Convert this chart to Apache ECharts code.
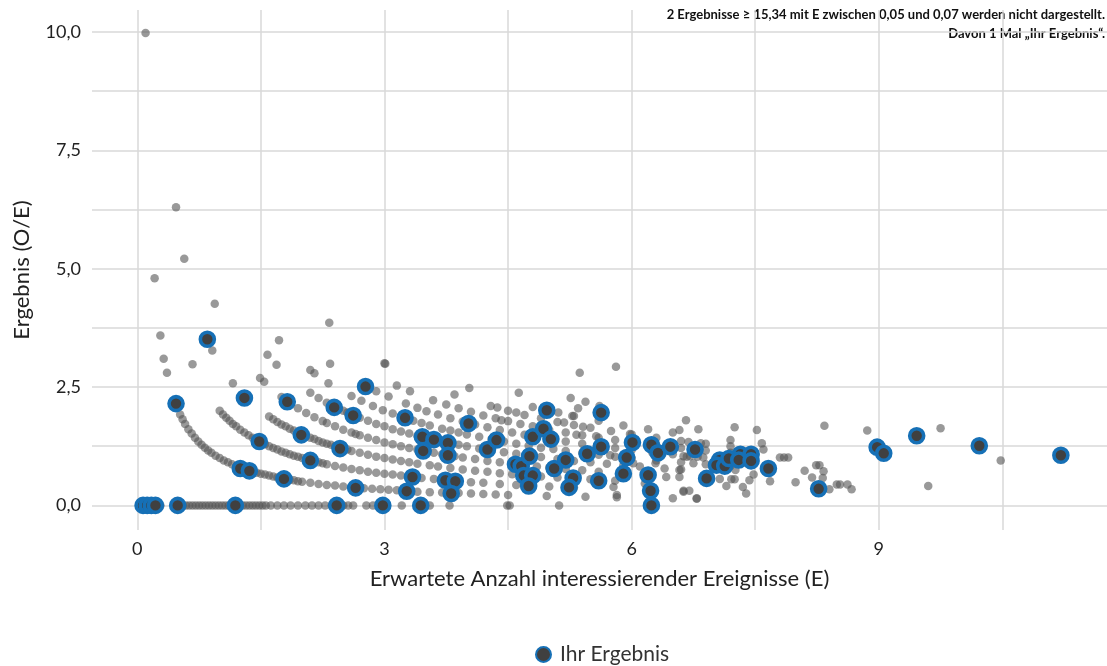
<!DOCTYPE html>
<html>
<head>
<meta charset="utf-8">
<script src="https://cdn.jsdelivr.net/npm/echarts@6/dist/echarts.min.js"></script>
<style>
html,body{margin:0;padding:0;background:#fff;}
#chart{width:1107px;height:666px;}
</style>
</head>
<body>
<div id="chart"></div>
<script>
// ---- data (E, O/E) ----
const xTickLabels = [0, 3, 6, 9];
const yTickLabels = [0, 2.5, 5, 7.5, 10];
const xGridLines = [0, 1.5, 3, 4.5, 6, 7.5, 9, 10.5];
const yGridLines = [0, 1.25, 2.5, 3.75, 5, 6.25, 7.5, 8.75, 10];
const noteLines = [
  '2 Ergebnisse \u2265 15,34 mit E zwischen 0,05 und 0,07 werden nicht dargestellt.',
  'Davon 1 Mal \u201EIhr Ergebnis\u201C.'
];

const ihrErgebnis = [
  [0.07,0],[0.12,0],[0.17,0],[0.22,0],[0.49,0],[1.19,0],[2.42,0],[2.98,0],[3.44,0],[6.24,0],
  [0.47,2.15],[0.85,3.51],[1.30,2.27],[1.82,2.19],[1.48,1.35],[1.25,0.78],[1.36,0.73],[1.99,1.49],
  [1.78,0.56],[2.10,0.95],[2.39,2.07],[2.77,2.51],[2.62,1.90],[2.46,1.20],[2.65,0.37],[3.25,1.85],
  [3.46,1.45],[3.60,1.39],[3.77,1.32],[3.47,1.15],[3.77,1.06],[3.34,0.60],[3.27,0.30],[3.74,0.53],
  [3.86,0.51],[3.81,0.25],[4.02,1.73],[4.25,1.18],[4.36,1.38],[4.97,2.01],[4.80,1.45],[4.93,1.62],
  [5.02,1.40],[4.59,0.87],[4.66,0.83],[4.76,1.04],[4.69,0.63],[4.80,0.63],[4.75,0.41],[5.06,0.78],
  [5.20,0.96],[5.29,0.58],[5.24,0.38],[5.46,1.09],[5.63,1.96],[5.63,1.24],[5.60,0.52],[5.94,1.01],
  [5.90,0.67],[6.01,1.33],[6.24,1.28],[6.32,1.11],[6.20,0.64],[6.23,0.31],[6.47,1.24],[6.77,1.18],
  [6.91,0.57],[7.07,0.96],[7.03,0.85],[7.13,0.83],[7.18,0.99],[7.32,1.08],[7.30,0.96],[7.45,1.08],
  [7.45,0.94],[7.66,0.78],[8.27,0.35],[8.98,1.23],[9.06,1.10],[9.46,1.47],[10.22,1.26],[11.21,1.06]
];

// all other results
const rowZero = [
  [0.05,0],[0.08,0],[0.12,0],[0.18,0],[0.24,0],[0.28,0],[0.55,0],[0.59,0],[0.63,0],[0.67,0],[0.71,0],
  [0.75,0],[0.79,0],[0.83,0],[0.87,0],[0.91,0],[0.95,0],[0.99,0],[1.03,0],[1.07,0],[1.11,0],[1.15,0],
  [1.24,0],[1.28,0],[1.32,0],[1.36,0],[1.40,0],[1.44,0],[1.48,0],[1.52,0],[1.56,0],[1.62,0],[1.70,0],
  [1.78,0],[1.86,0],[1.95,0],[2.04,0],[2.12,0],[2.20,0],[2.28,0],[2.36,0],[2.50,0],[2.56,0],[2.62,0],
  [2.78,0],[2.86,0],[3.21,0],[3.55,0],[3.79,0],[4.49,0],[4.52,0],[5.12,0]
];
const rowOne = [
  [0.52,1.92],[0.55,1.82],[0.58,1.72],[0.62,1.61],[0.66,1.52],[0.70,1.43],[0.74,1.35],[0.78,1.28],
  [0.82,1.22],[0.86,1.16],[0.90,1.11],[0.95,1.05],[1.00,1.00],[1.05,0.95],[1.10,0.91],[1.15,0.87],
  [1.20,0.83],[1.30,0.77],[1.40,0.71],[1.45,0.69],[1.50,0.67],[1.55,0.65],[1.60,0.63],[1.65,0.61],
  [1.70,0.59],[1.85,0.54],[1.90,0.53],[1.95,0.51],[2.00,0.50],[2.10,0.48],[2.20,0.45],[2.30,0.43],
  [2.40,0.42],[2.50,0.40],[2.60,0.38],[2.75,0.36],[2.85,0.35],[2.95,0.34],[3.05,0.33],[3.15,0.32],
  [3.40,0.29],[3.55,0.28],[3.70,0.27],[3.90,0.26],[4.05,0.25],[4.20,0.24],[4.35,0.23],[4.50,0.22],
  [4.97,0.20],[5.44,0.18],[5.82,0.17]
];
const rowTwo = [
  [1.00,2.00],[1.04,1.92],[1.08,1.85],[1.12,1.79],[1.16,1.72],[1.20,1.67],[1.25,1.60],[1.30,1.54],
  [1.35,1.48],[1.40,1.43],[1.45,1.38],[1.55,1.29],[1.60,1.25],[1.65,1.21],[1.70,1.18],[1.75,1.14],
  [1.80,1.11],[1.85,1.08],[1.90,1.05],[1.95,1.03],[2.00,1.00],[2.05,0.98],[2.15,0.93],[2.20,0.91],
  [2.25,0.89],[2.30,0.87],[2.40,0.83],[2.50,0.80],[2.60,0.77],[2.70,0.74],[2.80,0.71],[2.90,0.69],
  [3.00,0.67],[3.10,0.65],[3.20,0.63],[3.30,0.61],[3.45,0.58],[3.60,0.56],[3.75,0.53],[3.90,0.51],
  [4.05,0.49],[4.20,0.48],[4.40,0.45],[4.60,0.43],[4.80,0.42],[5.00,0.40],[5.30,0.38],[5.78,0.39]
];
const rowThree = [
  [1.16,2.58],[1.60,1.88],[1.65,1.82],[1.70,1.76],[1.75,1.71],[1.80,1.67],[1.85,1.62],[1.90,1.58],
  [1.95,1.54],[2.05,1.46],[2.10,1.43],[2.15,1.40],[2.20,1.36],[2.25,1.33],[2.30,1.30],[2.35,1.28],
  [2.40,1.25],[2.50,1.20],[2.55,1.18],[2.60,1.15],[2.70,1.11],[2.80,1.07],[2.90,1.03],[3.00,1.00],
  [3.10,0.97],[3.20,0.94],[3.30,0.91],[3.40,0.88],[3.55,0.85],[3.65,0.82],[3.80,0.79],[3.95,0.76],
  [4.10,0.73],[4.25,0.71],[4.40,0.68],[4.55,0.66],[4.70,0.64],[4.90,0.61],[5.10,0.59],[5.30,0.57],
  [5.50,0.55],[5.80,0.52]
];
const rowFour = [
  [1.49,2.69],[1.54,2.61],[1.75,2.29],[1.85,2.16],[1.95,2.05],[2.05,1.95],[2.15,1.86],[2.25,1.78],
  [2.30,1.74],[2.40,1.67],[2.50,1.60],[2.60,1.54],[2.65,1.51],[2.70,1.48],[2.80,1.43],[2.90,1.38],
  [3.00,1.33],[3.10,1.29],[3.20,1.25],[3.30,1.21],[3.40,1.18],[3.50,1.14],[3.60,1.11],[3.70,1.08],
  [3.85,1.04],[3.95,1.01],[4.10,0.98],[4.25,0.94],[4.40,0.91],[4.55,0.88],[4.70,0.85],[4.85,0.82],
  [5.00,0.80],[5.20,0.77],[5.40,0.74],[5.60,0.71],[5.90,0.68],[6.20,0.65]
];
const rowFive = [
  [1.58,3.18],[1.69,2.97],[2.10,2.38],[2.20,2.27],[2.30,2.17],[2.45,2.04],[2.50,2.00],[2.55,1.96],
  [2.70,1.85],[2.80,1.79],[2.90,1.72],[3.00,1.67],[3.10,1.61],[3.20,1.56],[3.30,1.52],[3.40,1.47],
  [3.50,1.43],[3.60,1.39],[3.70,1.35],[3.80,1.32],[3.90,1.28],[4.00,1.25],[4.15,1.20],[4.30,1.16],
  [4.45,1.12],[4.60,1.09],[4.75,1.05],[4.90,1.02],[5.10,0.98],[5.30,0.94],[5.50,0.91],[5.70,0.88],
  [5.90,0.85],[6.10,0.82],[6.40,0.78],[6.60,0.76]
];
const rowSix = [
  [1.72,3.49],[2.10,2.86],[2.15,2.79],[2.32,2.58],[2.60,2.31],[2.72,2.21],[2.86,2.10],[2.98,2.01],
  [3.10,1.94],[3.20,1.88],[3.35,1.79],[3.45,1.74],[3.55,1.69],[3.70,1.62],[3.80,1.58],[3.90,1.54],
  [4.00,1.50],[4.15,1.45],[4.30,1.40],[4.45,1.35],[4.60,1.30],[4.75,1.26],[4.90,1.22],[5.05,1.19],
  [5.20,1.15],[5.40,1.11],[5.60,1.07],[5.80,1.03],[6.00,1.00],[6.30,0.95],[6.60,0.91],[6.90,0.87],
  [7.20,0.83]
];
const rowSeven = [
  [2.34,2.99],[2.90,2.41],[3.05,2.30],[3.26,2.15],[3.40,2.06],[3.51,1.99],[3.65,1.92],[3.80,1.84],
  [3.95,1.77],[4.10,1.71],[4.25,1.65],[4.40,1.59],[4.55,1.54],[4.70,1.49],[4.85,1.44],[5.00,1.40],
  [5.20,1.35],[5.40,1.30],[5.60,1.25],[5.80,1.21],[6.00,1.17],[6.25,1.12],[6.50,1.08],[6.80,1.03],
  [7.10,0.99],[7.40,0.95]
];
const rowEightUp = [
  [3.15,2.53],[3.31,2.41],[3.59,2.22],[3.75,2.13],[3.90,2.05],[4.05,1.98],[4.20,1.90],[4.35,1.84],
  [4.50,1.78],[4.65,1.72],[4.80,1.67],[5.00,1.60],[5.20,1.54],[5.40,1.48],[5.60,1.43],[5.80,1.38],
  [6.00,1.33],[6.30,1.27],[6.60,1.21],[6.90,1.16],[7.20,1.11],[7.50,1.07],[7.90,1.01],
  [3.00,3.00],[3.01,2.99],[3.85,2.34],[4.29,2.10],[4.37,2.07],[4.50,2.00],[4.70,1.91],[4.90,1.84],
  [5.10,1.76],[5.30,1.70],[5.50,1.64],[5.75,1.57],[6.00,1.50],[6.30,1.43],[6.60,1.36],[6.90,1.30],
  [7.20,1.25],[7.60,1.18],[4.03,2.48],[4.80,2.08],[5.00,2.00],[5.30,1.89],[5.60,1.79],[5.90,1.69],
  [6.20,1.61],[6.50,1.54],[4.63,2.38],[5.26,2.27]
];
const scattered = [
  [0.10,9.98],[0.47,6.30],[0.57,5.21],[0.21,4.80],[0.94,4.26],[0.28,3.59],[0.32,3.10],[0.36,2.80],
  [0.67,2.98],[0.91,3.27],[2.33,3.86],[5.37,2.80],[5.81,2.93],[5.44,2.19],[5.35,2.05],[5.61,2.10],
  [5.11,1.96],[5.18,1.75],[5.28,1.89],[5.41,1.66],[5.33,1.49],[5.57,1.46],[4.60,1.96],[4.42,1.80],
  [6.66,1.80],[6.81,1.61],[6.69,1.34],[6.84,1.31],[6.63,1.04],[6.71,1.04],[6.58,0.60],[6.63,0.31],
  [6.70,0.31],[6.79,0.14],[6.75,0.89],[7.25,1.65],[7.20,1.38],[7.52,1.59],[7.58,1.31],[6.87,1.01],
  [7.07,0.56],[7.15,0.41],[7.21,0.55],[7.25,0.55],[7.35,0.39],[7.39,0.25],[7.43,0.53],[7.48,0.65],
  [7.26,0.75],[7.68,0.51],[7.80,1.01],[7.85,1.01],[7.99,0.49],[8.10,0.73],[8.19,0.59],[8.24,0.85],
  [8.28,0.85],[8.33,0.72],[8.32,0.58],[8.34,1.68],[8.40,0.34],[8.49,0.44],[8.53,0.44],[8.62,0.44],
  [8.67,0.34],[8.86,1.58],[9.75,1.63],[10.48,0.95],[9.60,0.41],[6.58,1.59],[5.98,1.51],[5.98,1.03],
  [6.02,0.89],[6.16,0.46],[6.29,0.89],[6.42,0.60],[6.50,0.15],[6.63,0.29],[6.79,0.15],[6.67,1.03],
  [6.58,0.75],[5.74,1.06],[5.82,0.22]
];

const FONT = 'Lato';
const fmtY = v => v.toFixed(1).replace('.', ',');

const alleErgebnisse = [].concat(rowZero, rowOne, rowTwo, rowThree, rowFour, rowFive, rowSix, rowSeven, rowEightUp, scattered);

const chart = echarts.init(document.getElementById('chart'), null, {renderer: 'canvas'});
chart.setOption({
  animation: false,
  backgroundColor: '#ffffff',
  textStyle: {fontFamily: FONT},
  grid: {left: 92, right: 0, top: 10, bottom: 136, containLabel: false, outerBoundsMode: 'none'},
  xAxis: {
    type: 'value', min: -0.55, max: 11.77,
    splitLine: {show: false}, axisLine: {show: false}, axisTick: {show: false},
    axisLabel: {customValues: xTickLabels, formatter: v => String(v), fontSize: 18, color: '#222', margin: 10, fontFamily: FONT},
    name: 'Erwartete Anzahl interessierender Ereignisse (E)',
    nameLocation: 'middle', nameGap: 38,
    nameTextStyle: {fontSize: 22, color: '#222', fontFamily: FONT}
  },
  yAxis: {
    type: 'value', min: -0.52, max: 10.465,
    splitLine: {show: false}, axisLine: {show: false}, axisTick: {show: false},
    axisLabel: {customValues: yTickLabels, formatter: v => fmtY(v), fontSize: 18, color: '#222', margin: 11, fontFamily: FONT},
    name: 'Ergebnis (O/E)',
    nameLocation: 'middle', nameGap: 59,
    nameTextStyle: {fontSize: 22, color: '#222', fontFamily: FONT}
  },
  legend: {
    data: ['Ihr Ergebnis'], top: 639, left: 530,
    icon: 'circle', itemWidth: 15, itemHeight: 15, itemGap: 10,
    textStyle: {fontSize: 21, color: '#333', fontFamily: FONT, padding: [0, 0, 0, 4]}
  },
  graphic: noteLines.map((t, i) => ({
    type: 'text', right: 2, top: 8 + i * 19,
    style: {text: t, font: 'bold 13px Lato', fill: '#111'}
  })),
  series: [
    {
      name: 'Alle Ergebnisse', type: 'scatter', z: 2,
      data: alleErgebnisse, symbolSize: 8.5,
      itemStyle: {color: '#555555', opacity: 0.6},
      silent: true,
      markLine: {
        silent: true, symbol: 'none', z: 1, animation: false,
        label: {show: false},
        lineStyle: {color: '#d9d9d9', width: 1.5, type: 'solid'},
        emphasis: {disabled: true},
        data: [].concat(yGridLines.map(v => ({yAxis: v})), xGridLines.map(v => ({xAxis: v})))
      }
    },
    {
      name: 'Ihr Ergebnis', type: 'scatter', z: 3,
      data: ihrErgebnis, symbolSize: 14,
      itemStyle: {color: '#404040', borderColor: '#1670b6', borderWidth: 3.6, opacity: 1}
    }
  ]
});
</script>
</body>
</html>
